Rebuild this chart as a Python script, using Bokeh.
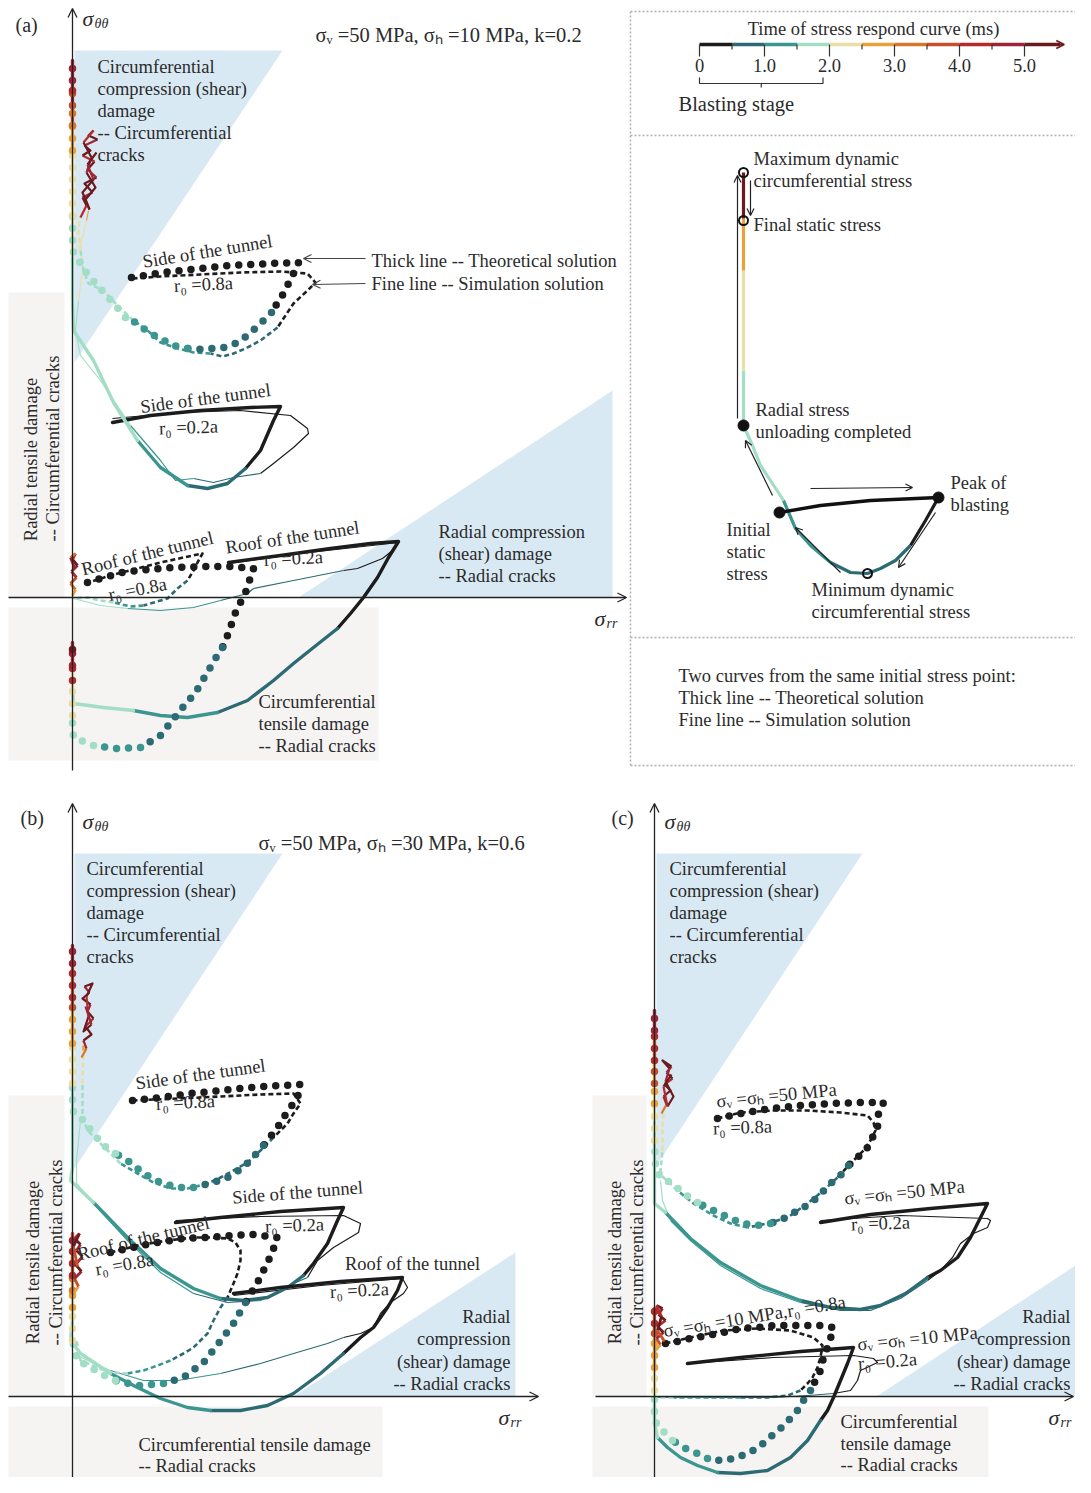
import math
from bisect import bisect_right
from bokeh.plotting import figure
from bokeh.models import Range1d, Arrow, OpenHead, Label
from bokeh.embed import file_html
from bokeh.resources import INLINE

FONT = "Liberation Serif"
TXT = "#2b2b2b"
FS = "18.5px"

# ---------------- colour scale: time of stress respond curve (ms) ----------------
time_bin_edges = [0.5, 1.0, 1.5, 2.0, 2.5, 3.0, 3.5, 4.0, 4.5, 5.0]
time_colors = ["#1c1c1c", "#2c6b74", "#3b968f", "#a2ddc6", "#e9dfa6", "#e8a23c",
               "#d6782b", "#c4502c", "#b32b2b", "#9e2537", "#6b1a1e"]
colorbar_ticks = [0.0, 1.0, 2.0, 3.0, 4.0, 5.0]
colorbar_tick_labels = ["0", "1.0", "2.0", "3.0", "4.0", "5.0"]
colorbar_end = 5.55
blasting_stage = [0.0, 1.9]

# ---------------- panel (a): sv=50, sh=10 (local stress-path units) ----------------
a_side08_th_x = [59, 78, 98, 118, 138, 158, 178, 198, 226, 221, 216, 211, 199, 188, 175, 163, 151, 130, 115, 101, 88, 76, 65, 53, 43, 25, 16, 8, 0, 0, 0, 0, 0, 0, 0, 0]
a_side08_th_y = [320, 323, 326, 328, 330, 332, 333, 334, 335, 324, 314, 304, 285, 274, 262, 254, 250, 248, 249, 252, 259, 265, 274, 280, 292, 312, 322, 334, 347, 382, 447, 472, 492, 507, 517, 537]
a_side08_th_t = [0, .06, .12, .18, .24, .3, .36, .4, .45, .47, .48, .49, .5, .55, .65, .75, .85, .95, 1.05, 1.15, 1.25, 1.35, 1.45, 1.55, 1.65, 1.75, 1.85, 1.95, 1.98, 2.0, 2.6, 3.2, 3.8, 4.3, 4.8, 5.2]

a_side08_sim_x = [60, 88, 128, 168, 208, 235, 243, 235, 221, 205, 188, 173, 161, 150, 138, 121, 105, 88, 75, 61, 45, 31, 16, 11, 8, 6, 8]
a_side08_sim_y = [319, 321, 323, 325, 326, 324, 315, 307, 294, 270, 257, 249, 244, 241, 244, 245, 249, 255, 267, 277, 292, 307, 314, 327, 347, 367, 382]
a_side08_sim_t = [0, .1, .2, .3, .35, .4, .42, .45, .47, .5, .6, .7, .8, .9, 1.0, 1.1, 1.2, 1.3, 1.45, 1.55, 1.65, 1.75, 1.85, 1.95, 2.1, 2.3, 2.6]

a_side02_th_x = [40, 78, 128, 178, 208, 201, 188, 173, 155, 135, 115, 88, 65, 41, 21, 1, 0, 0, 0, 0, 0, 0]
a_side02_th_y = [175, 182, 187, 190, 191, 177, 147, 129, 114, 109, 112, 130, 157, 195, 237, 267, 297, 342, 447, 472, 492, 537]
a_side02_th_t = [0, .1, .2, .3, .4, .42, .46, .5, .7, .9, 1.05, 1.3, 1.5, 1.6, 1.75, 1.9, 1.95, 2.0, 2.6, 3.6, 4.6, 5.2]

a_side02_sim_x = [40, 108, 168, 218, 235, 236, 221, 201, 188, 161, 141, 121, 103, 88, 58, 28, 8, 3, 6, 10, 8, 14, 16]
a_side02_sim_y = [179, 185, 187, 182, 169, 164, 150, 134, 124, 120, 115, 119, 117, 137, 172, 217, 242, 267, 297, 327, 352, 377, 387]
a_side02_sim_t = [0, .15, .25, .35, .4, .42, .45, .48, .5, .7, .9, 1.0, 1.1, 1.3, 1.5, 1.6, 1.7, 1.85, 2.0, 2.2, 2.4, 2.6, 2.8]

a_roof08_th_x = [15, 28, 50, 75, 100, 135, 158, 181, 177, 173, 163, 155, 150, 143, 136, 123, 106, 88, 68, 45, 21, 1, 0, 0, 0, 0, 0, 0]
a_roof08_th_y = [15, 19, 25, 28, 30, 31, 31, 29, 17, 5, -15, -38, -50, -61, -73, -95, -115, -138, -150, -151, -148, -140, -130, -118, -83, -68, -52, -43]
a_roof08_th_t = [0, .05, .1, .15, .2, .25, .3, .35, .37, .39, .42, .46, .5, .55, .6, .7, .8, .95, 1.1, 1.3, 1.55, 1.7, 1.9, 2.0, 4.0, 4.6, 5.2, 5.2]

a_roof08_sim_x = [13, 38, 65, 88, 111, 130, 125, 121, 115, 105, 95, 88, 71, 58, 41, 28, 15, 1]
a_roof08_sim_y = [14, 22, 29, 35, 40, 44, 35, 27, 17, 9, -1, -3, -8, -9, -5, -3, 0, -1]
a_roof08_sim_t = [0, .05, .1, .15, .2, .25, .3, .35, .5, .6, .7, .8, 1.0, 1.2, 1.5, 1.6, 1.8, 1.95]

a_roof02_th_x = [156, 208, 258, 298, 326, 316, 305, 291, 278, 265, 241, 221, 201, 175, 145, 115, 88, 61, 31, 1, 0, 0, 0, 0]
a_roof02_th_y = [35, 42, 49, 54, 56, 40, 20, 0, -16, -31, -50, -66, -83, -103, -115, -120, -118, -113, -110, -106, -93, -70, -55, -45]
a_roof02_th_t = [0, .1, .2, .3, .4, .42, .44, .46, .48, .5, .6, .7, .8, .9, 1.0, 1.1, 1.25, 1.5, 1.7, 1.9, 2.0, 4.0, 4.7, 5.2]

a_roof02_sim_x = [156, 228, 326, 320, 310, 300, 285, 271, 221, 181, 175, 148, 121, 88, 55, 28, 1]
a_roof02_sim_y = [34, 44, 55, 47, 39, 35, 29, 27, 17, 9, 4, -3, -10, -13, -11, -8, -1]
a_roof02_sim_t = [0, .1, .3, .35, .38, .4, .45, .5, .7, .9, .95, 1.05, 1.2, 1.35, 1.5, 1.6, 1.9]

a_scrib_side_x = [8, 14, 10, 20, 12, 24, 15, 22, 10, 18, 12, 25, 16, 21, 11, 19, 14, 23, 13, 17, 10, 21, 15, 24]
a_scrib_side_y = [380, 392, 400, 405, 414, 420, 428, 436, 442, 447, 452, 458, 462, 467, 455, 440, 425, 410, 398, 388, 405, 418, 433, 445]
a_scrib_side_t = [4.2, 5.2, 4.7, 5.2, 5.2, 4.7, 5.2, 4.2, 5.2, 5.2, 4.7, 5.2, 5.2, 4.2, 5.2, 4.7, 5.2, 5.2, 4.7, 5.2, 5.2, 4.7, 5.2, 5.2]
a_scrib_roof_x = [0, 3, -2, 4, -1, 5, 0, 3, -2, 2]
a_scrib_roof_y = [2, 8, 14, 20, 26, 32, 38, 44, 40, 30]
a_scrib_roof_t = [2.7, 3.2, 3.7, 4.2, 4.7, 5.2, 4.2, 3.2, 4.7, 5.2]

# ---------------- panel (b): sv=50, sh=30 ----------------
b_side08_th_x = [60, 88, 118, 148, 178, 208, 228, 225, 218, 211, 205, 191, 178, 166, 155, 141, 121, 105, 88, 71, 58, 43, 31, 21, 11, 0, 0, 0, 0, 0, 0, 0]
b_side08_th_y = [296, 299, 303, 306, 309, 311, 312, 299, 289, 279, 269, 251, 236, 226, 219, 214, 209, 209, 214, 223, 234, 243, 251, 263, 276, 286, 313, 353, 389, 399, 433, 451]
b_side08_th_t = [0, .05, .1, .15, .2, .25, .3, .33, .36, .4, .45, .55, .65, .75, .85, .95, 1.05, 1.15, 1.25, 1.35, 1.45, 1.55, 1.65, 1.75, 1.85, 1.95, 2.0, 2.6, 3.6, 4.2, 4.8, 5.2]

b_side08_sim_x = [60, 128, 188, 221, 228, 221, 215, 201, 188, 175, 161, 148, 135, 115, 98, 81, 65, 48, 35, 25, 15, 10, 10, 11, 11]
b_side08_sim_y = [296, 299, 302, 303, 293, 283, 273, 259, 246, 234, 226, 219, 213, 208, 208, 214, 223, 233, 246, 256, 266, 279, 313, 346, 356]
b_side08_sim_t = [0, .1, .2, .3, .33, .36, .4, .5, .6, .7, .8, .9, 1.0, 1.1, 1.2, 1.3, 1.4, 1.5, 1.6, 1.7, 1.8, 1.9, 2.0, 2.6, 2.8]

b_side02_th_x = [103, 148, 208, 271, 265, 255, 241, 231, 215, 195, 171, 148, 121, 88, 55, 21, -2, 0, 0, 0, 0, 0, 0, 0]
b_side02_th_y = [174, 179, 185, 189, 176, 153, 133, 121, 109, 99, 96, 98, 108, 128, 159, 194, 216, 229, 276, 313, 353, 389, 433, 451]
b_side02_th_t = [0, .1, .2, .3, .33, .38, .44, .5, .6, .75, .9, 1.0, 1.15, 1.3, 1.45, 1.6, 1.75, 1.8, 1.95, 2.0, 2.6, 3.6, 4.6, 5.2]

b_side02_sim_x = [103, 188, 271, 288, 286, 261, 245, 235, 221, 188, 155, 121, 88, 55, 23, 4, 4, 8]
b_side02_sim_y = [176, 180, 181, 173, 164, 149, 136, 119, 113, 96, 94, 103, 124, 156, 191, 213, 236, 276]
b_side02_sim_t = [0, .15, .3, .33, .36, .4, .45, .5, .6, .8, .95, 1.1, 1.3, 1.45, 1.6, 1.75, 1.9, 2.0]

b_roof08_th_x = [38, 60, 85, 111, 135, 158, 181, 205, 201, 196, 185, 173, 161, 146, 131, 111, 91, 66, 43, 28, 15, 5, 0, 0, 0, 0, 0, 0]
b_roof08_th_y = [144, 149, 154, 158, 159, 161, 162, 159, 148, 136, 114, 94, 73, 53, 34, 19, 13, 11, 16, 23, 31, 36, 56, 89, 106, 121, 156, 163]
b_roof08_th_t = [0, .03, .06, .1, .13, .16, .2, .25, .28, .32, .38, .5, .6, .7, .8, .9, 1.0, 1.2, 1.5, 1.6, 1.7, 1.85, 2.0, 2.6, 3.2, 4.0, 4.7, 5.2]

b_roof08_sim_x = [38, 65, 95, 121, 138, 155, 163, 168, 168, 165, 161, 155, 148, 141, 135, 121, 111, 98, 85, 71, 55, 38, 25, 8, 4]
b_roof08_sim_y = [144, 151, 156, 159, 159, 158, 154, 146, 136, 123, 113, 99, 89, 76, 63, 49, 43, 36, 31, 26, 23, 24, 29, 36, 56]
b_roof08_sim_t = [0, .05, .1, .15, .2, .25, .28, .3, .33, .38, .42, .5, .55, .6, .7, .8, .9, 1.0, 1.1, 1.3, 1.5, 1.6, 1.7, 1.85, 2.0]

b_roof02_th_x = [161, 208, 268, 330, 325, 315, 301, 288, 271, 248, 221, 195, 168, 138, 115, 88, 65, 38, 8, -2, 0, 0, 0, 0]
b_roof02_th_y = [103, 109, 115, 119, 106, 89, 69, 59, 43, 23, 3, -9, -14, -14, -11, -2, 9, 23, 43, 56, 76, 106, 121, 163]
b_roof02_th_t = [0, .1, .2, .3, .33, .37, .42, .46, .5, .6, .7, .8, .9, 1.0, 1.1, 1.25, 1.4, 1.55, 1.7, 1.85, 2.0, 2.6, 3.6, 5.2]

b_roof02_sim_x = [161, 248, 330, 335, 331, 318, 308, 301, 288, 271, 255, 221, 188, 148, 105, 71, 38, 15, 1]
b_roof02_sim_y = [101, 111, 118, 109, 103, 94, 83, 69, 63, 59, 53, 43, 33, 23, 16, 16, 26, 36, 43]
b_roof02_sim_t = [0, .15, .3, .33, .35, .38, .41, .44, .47, .5, .6, .75, .9, 1.05, 1.2, 1.35, 1.55, 1.7, 1.85]

b_scrib_side_x = [9, 14, 11, 19, 13, 21, 15, 18, 10, 17, 12, 20, 14, 16, 11, 19, 13]
b_scrib_side_y = [339, 348, 356, 362, 370, 378, 385, 392, 398, 404, 410, 413, 400, 380, 365, 372, 390]
b_scrib_side_t = [3.2, 4.7, 5.2, 5.2, 4.2, 5.2, 4.7, 5.2, 5.2, 4.7, 5.2, 5.2, 4.2, 5.2, 5.2, 4.7, 5.2]
b_scrib_roof_x = [1, 6, 2, 9, 3, 10, 4, 8, 2, 7, 1, 5]
b_scrib_roof_y = [103, 110, 118, 125, 132, 140, 146, 152, 158, 163, 150, 130]
b_scrib_roof_t = [2.7, 3.7, 4.7, 5.2, 4.2, 5.2, 4.7, 5.2, 4.2, 5.2, 3.7, 5.2]

# ---------------- panel (c): sv=sh=50 and sv=sh=10 ----------------
c_50_08_th_x = [63, 86, 116, 146, 176, 206, 229, 224, 223, 218, 213, 203, 194, 186, 176, 163, 149, 129, 116, 103, 89, 76, 59, 43, 29, 18, 6, 1, 0, 0, 0, 0, 0, 0]
c_50_08_th_y = [278, 283, 288, 291, 293, 294, 294, 283, 269, 259, 249, 239, 231, 221, 213, 199, 189, 178, 173, 171, 173, 178, 186, 194, 203, 213, 219, 228, 256, 293, 313, 336, 366, 386]
c_50_08_th_t = [0, .03, .08, .13, .18, .23, .28, .3, .33, .36, .4, .45, .5, .55, .6, .7, .8, .9, 1.0, 1.1, 1.2, 1.3, 1.4, 1.5, 1.6, 1.7, 1.8, 1.9, 2.0, 2.6, 3.6, 4.2, 4.8, 5.2]

c_50_08_sim_x = [63, 86, 119, 153, 186, 213, 219, 221, 216, 209, 196, 183, 169, 153, 133, 113, 93, 76, 59, 39, 23, 9, 6, 8, 8, 9]
c_50_08_sim_y = [278, 284, 286, 286, 284, 281, 274, 266, 256, 246, 233, 219, 206, 193, 179, 173, 169, 173, 181, 193, 206, 219, 226, 246, 269, 283]
c_50_08_sim_t = [0, .05, .1, .15, .2, .25, .28, .31, .35, .4, .47, .55, .65, .75, .85, .95, 1.05, 1.15, 1.3, 1.45, 1.6, 1.75, 1.85, 2.0, 2.4, 2.8]

c_50_02_th_x = [166, 216, 276, 333, 326, 316, 303, 286, 273, 251, 226, 206, 176, 146, 106, 66, 36, 11, 0, 0, 0, 0, 0, 0, 0]
c_50_02_th_y = [174, 182, 188, 193, 179, 159, 139, 126, 119, 103, 91, 87, 89, 96, 111, 134, 158, 184, 193, 246, 276, 313, 336, 366, 386]
c_50_02_th_t = [0, .1, .2, .3, .33, .37, .42, .46, .5, .6, .7, .8, .9, 1.0, 1.15, 1.3, 1.45, 1.6, 1.75, 1.95, 2.0, 2.6, 3.6, 4.6, 5.2]

c_50_02_sim_x = [166, 246, 333, 336, 333, 319, 306, 298, 286, 273, 246, 216, 186, 146, 106, 66, 36, 16, 8, 6]
c_50_02_sim_y = [176, 181, 178, 176, 169, 163, 153, 139, 126, 116, 98, 86, 86, 94, 108, 131, 156, 176, 196, 216]
c_50_02_sim_t = [0, .15, .3, .32, .34, .37, .4, .44, .47, .5, .62, .75, .88, 1.0, 1.15, 1.3, 1.45, 1.6, 1.75, 1.9]

c_10_08_th_x = [11, 19, 36, 53, 69, 86, 103, 119, 136, 153, 166, 179, 176, 173, 169, 166, 161, 156, 149, 143, 134, 124, 114, 104, 93, 79, 66, 53, 43, 29, 18, 6, 0, 0, 0, 0, 0, 0, 0, 0]
c_10_08_th_y = [53, 54, 58, 61, 64, 68, 69, 71, 71, 71, 71, 69, 58, 49, 39, 26, 16, 6, -4, -14, -24, -34, -42, -51, -57, -62, -64, -62, -57, -51, -44, -32, -24, -11, 6, 29, 49, 63, 73, 88]
c_10_08_th_t = [0, .02, .05, .08, .11, .14, .17, .2, .23, .26, .29, .32, .34, .36, .39, .42, .45, .5, .55, .6, .65, .7, .75, .8, .85, .9, .95, 1.0, 1.2, 1.4, 1.55, 1.7, 1.85, 1.95, 2.0, 2.5, 2.7, 3.7, 4.2, 5.2]

c_10_08_sim_x = [11, 36, 69, 103, 136, 159, 168, 166, 163, 158, 153, 146, 133, 113, 86, 53, 19, 0]
c_10_08_sim_y = [53, 59, 66, 68, 66, 59, 51, 39, 29, 19, 13, 6, 1, -1, -1, -1, -1, -1]
c_10_08_sim_t = [0, .05, .1, .15, .2, .25, .3, .34, .38, .42, .46, .5, .7, .9, 1.1, 1.3, 1.6, 1.9]

c_10_02_th_x = [33, 86, 146, 199, 193, 186, 179, 173, 166, 153, 136, 113, 86, 63, 43, 26, 13, 3, 0, 0, 0, 0, 0]
c_10_02_th_y = [33, 39, 45, 49, 33, 16, -1, -14, -24, -44, -61, -74, -77, -76, -69, -61, -51, -41, -27, -1, 29, 63, 88]
c_10_02_th_t = [0, .1, .2, .3, .34, .38, .42, .46, .5, .6, .7, .8, .9, 1.0, 1.15, 1.3, 1.45, 1.6, 1.8, 2.0, 2.6, 3.6, 5.2]

c_10_02_sim_x = [33, 119, 199, 219, 223, 206, 203, 196, 179, 153, 119, 53, 3]
c_10_02_sim_y = [33, 39, 41, 38, 34, 26, 16, 6, 3, 1, -1, -1, -1]
c_10_02_sim_t = [0, .15, .3, .33, .35, .38, .42, .46, .5, .7, .9, 1.3, 1.8]

c_scrib_50_x = [7, 12, 9, 16, 10, 18, 12, 17, 8, 15, 11, 19, 13, 9, 17]
c_scrib_50_y = [283, 292, 300, 306, 312, 318, 324, 330, 336, 328, 315, 300, 290, 310, 322]
c_scrib_50_t = [3.2, 4.7, 5.2, 5.2, 4.2, 5.2, 4.7, 5.2, 5.2, 4.7, 5.2, 5.2, 4.2, 5.2, 5.2]
c_scrib_10_x = [1, 6, 2, 9, 3, 11, 4, 8, 2, 7, 3, 10]
c_scrib_10_y = [46, 52, 58, 64, 70, 76, 82, 88, 91, 80, 66, 55]
c_scrib_10_t = [2.7, 3.7, 4.7, 5.2, 4.2, 5.2, 4.7, 5.2, 4.2, 5.2, 3.7, 5.2]

# ---------------- schematic of one stress path (legend) ----------------
sch_path_x = [195, 182, 167, 152, 137, 124, 107, 87, 67, 52, 40, 27, 17, 9, 0, 0, 0, 0, 0]
sch_path_y = [-72, -95, -120, -135, -143, -148, -147, -137, -120, -103, -75, -55, -40, -20, 0, 55, 155, 207, 253]
sch_path_t = [0.4, 0.45, 0.5, 0.6, 0.7, 0.8, 0.9, 1.0, 1.1, 1.3, 1.5, 1.6, 1.7, 1.9, 1.95, 2.0, 2.6, 5.2, 5.2]
sch_blast_x = [36, 77, 127, 195]
sch_blast_y = [-87, -80, -75, -72]
sch_initial = (36, -87)
sch_peak = (195, -72)
sch_unload = (0, 0)
sch_min = (124, -148)
sch_max = (0, 253)
sch_final = (0, 205)

# ---------------- layout (page positions) ----------------
ORIG_A = (72, 597)
ORIG_B = (72, 1396)
ORIG_C = (654, 1396)
ORIG_S = (743, 425)
CB_X0, CB_PX_PER_MS, CB_Y = 699, 65, 44

p = figure(width=1075, height=1477, x_range=Range1d(0, 1075), y_range=Range1d(1477, 0),
           x_axis_type=None, y_axis_type=None, toolbar_location=None,
           output_backend="svg", min_border=0)
p.grid.visible = False
p.outline_line_color = None
p.background_fill_color = "white"

BLUE = "#d9e9f4"
GRAY = "#f6f3f3"

def cidx(t):
    return bisect_right(time_bin_edges, t)

def curve(orig, xs, ys, ts, **style):
    ox, oy = orig
    px = [ox + v for v in xs]
    py = [oy - v for v in ys]
    ci = [cidx(t) for t in ts]
    rx, ry, rc = [], [], []
    start = 0
    n = len(px)
    for i in range(1, n):
        if ci[i] != ci[start] or i == n - 1:
            rx.append(px[start:i + 1]); ry.append(py[start:i + 1]); rc.append(time_colors[ci[start]])
            start = i
    p.multi_line(xs=rx, ys=ry, line_color=rc, **style)

DOT = dict(line_width=7.5, line_dash="0 12", line_cap="round", line_join="round")
DASH = dict(line_width=2.6, line_dash="5 3", line_join="round")
THICK = dict(line_width=3.4, line_cap="round", line_join="round")
THIN = dict(line_width=1.2, line_join="round")
SCRIB = dict(line_width=2.2, line_join="round")

def lbl(x, y, text, size=FS, align="left", angle=0.0, style="normal", baseline="middle", color=TXT):
    p.add_layout(Label(x=x, y=y, text=text, text_font=FONT, text_font_size=size, text_align=align,
                       text_baseline=baseline, angle=angle, text_font_style=style, text_color=color))

def arrow(x0, y0, x1, y1, color="#222222", width=1.2, size=9):
    p.add_layout(Arrow(end=OpenHead(size=size, line_color=color, line_width=width),
                       x_start=x0, y_start=y0, x_end=x1, y_end=y1, line_color=color, line_width=width))

# ---------------- background regions ----------------
def regions(orig, top_y, top_w, tri_top, tri_right, gray_left, gray_top, gray_bottom_right, gray_bottom_y):
    ox, oy = orig
    p.patch([ox + 2, ox + top_w, ox + 2], [top_y, top_y, tri_top], fill_color=BLUE, line_color=None)
    p.patch(tri_right[0], tri_right[1], fill_color=BLUE, line_color=None)
    p.quad(left=gray_left, right=ox - 8, top=gray_top, bottom=oy, fill_color=GRAY, line_color=None)
    p.quad(left=gray_left, right=gray_bottom_right, top=oy + 10, bottom=gray_bottom_y, fill_color=GRAY, line_color=None)

regions(ORIG_A, 50, 210, 362, ([298, 612, 612], [597, 390, 597]), 8, 292, 378, 760)
regions(ORIG_B, 853, 210, 1168, ([293, 515, 515], [1396, 1252, 1396]), 8, 1095, 382, 1483)
regions(ORIG_C, 853, 208, 1165, ([876, 1075, 1075], [1396, 1265, 1396]), 592, 1095, 988, 1483)

# ---------------- axes ----------------
for (ox, oy), ytop, xl, xr in [(ORIG_A, 8, 8, 626), (ORIG_B, 803, 8, 538), (ORIG_C, 803, 595, 1073)]:
    arrow(ox, 1490 if oy > 700 else 770, ox, ytop, width=1.3)
    arrow(xl, oy, xr, oy, width=1.3)

# ---------------- curves ----------------
def panel_curves(orig, items):
    for xs, ys, ts, st in items:
        curve(orig, xs, ys, ts, **st)

panel_curves(ORIG_A, [
    (a_side02_sim_x, a_side02_sim_y, a_side02_sim_t, THIN),
    (a_roof02_sim_x, a_roof02_sim_y, a_roof02_sim_t, THIN),
    (a_side02_th_x, a_side02_th_y, a_side02_th_t, THICK),
    (a_roof02_th_x, a_roof02_th_y, a_roof02_th_t, THICK),
    (a_side08_sim_x, a_side08_sim_y, a_side08_sim_t, DASH),
    (a_roof08_sim_x, a_roof08_sim_y, a_roof08_sim_t, DASH),
    (a_side08_th_x, a_side08_th_y, a_side08_th_t, DOT),
    (a_roof08_th_x, a_roof08_th_y, a_roof08_th_t, DOT),
    (a_scrib_side_x, a_scrib_side_y, a_scrib_side_t, SCRIB),
    (a_scrib_roof_x, a_scrib_roof_y, a_scrib_roof_t, dict(line_width=2.8)),
])
panel_curves(ORIG_B, [
    (b_side02_sim_x, b_side02_sim_y, b_side02_sim_t, THIN),
    (b_roof02_sim_x, b_roof02_sim_y, b_roof02_sim_t, THIN),
    (b_side02_th_x, b_side02_th_y, b_side02_th_t, THICK),
    (b_roof02_th_x, b_roof02_th_y, b_roof02_th_t, THICK),
    (b_side08_sim_x, b_side08_sim_y, b_side08_sim_t, DASH),
    (b_roof08_sim_x, b_roof08_sim_y, b_roof08_sim_t, DASH),
    (b_side08_th_x, b_side08_th_y, b_side08_th_t, DOT),
    (b_roof08_th_x, b_roof08_th_y, b_roof08_th_t, DOT),
    (b_scrib_side_x, b_scrib_side_y, b_scrib_side_t, SCRIB),
    (b_scrib_roof_x, b_scrib_roof_y, b_scrib_roof_t, dict(line_width=2.8)),
])
panel_curves(ORIG_C, [
    (c_50_02_sim_x, c_50_02_sim_y, c_50_02_sim_t, THIN),
    (c_10_02_sim_x, c_10_02_sim_y, c_10_02_sim_t, THIN),
    (c_50_02_th_x, c_50_02_th_y, c_50_02_th_t, THICK),
    (c_10_02_th_x, c_10_02_th_y, c_10_02_th_t, THICK),
    (c_50_08_sim_x, c_50_08_sim_y, c_50_08_sim_t, DASH),
    (c_10_08_sim_x, c_10_08_sim_y, c_10_08_sim_t, DASH),
    (c_50_08_th_x, c_50_08_th_y, c_50_08_th_t, DOT),
    (c_10_08_th_x, c_10_08_th_y, c_10_08_th_t, DOT),
    (c_scrib_50_x, c_scrib_50_y, c_scrib_50_t, SCRIB),
    (c_scrib_10_x, c_scrib_10_y, c_scrib_10_t, dict(line_width=2.8)),
])

# ---------------- legend boxes ----------------
DOTTED = dict(line_color="#b0b0b0", line_width=1.5, line_dash="2 2")
p.multi_line(xs=[[630, 1080], [630, 1080], [630, 1080], [630, 1080], [630, 630]],
             ys=[[11, 11], [135, 135], [637, 637], [765, 765], [11, 765]], **DOTTED)

# colour bar
def cbx(t):
    return CB_X0 + CB_PX_PER_MS * t
seg_x0, seg_x1, seg_c = [], [], []
for i, c in enumerate(time_colors):
    t0 = 0.5 * i
    t1 = min(0.5 * (i + 1), colorbar_end) if i < len(time_colors) - 1 else colorbar_end
    seg_x0.append(cbx(t0)); seg_x1.append(cbx(t1)); seg_c.append(c)
p.segment(x0=seg_x0, y0=[CB_Y] * len(seg_c), x1=seg_x1, y1=[CB_Y] * len(seg_c), line_color=seg_c, line_width=3.5)
p.add_layout(Arrow(end=OpenHead(size=8, line_color=time_colors[-1], line_width=1.5),
                   x_start=cbx(colorbar_end) - 4, y_start=CB_Y, x_end=cbx(colorbar_end) + 4, y_end=CB_Y,
                   line_color=time_colors[-1], line_width=1.5))
minor = [0.5 * k for k in range(11)]
p.segment(x0=[cbx(t) for t in minor], y0=[CB_Y] * 11, x1=[cbx(t) for t in minor],
          y1=[CB_Y + (12 if abs(t - round(t)) < 1e-9 else 5) for t in minor], line_color="#333333", line_width=1.2)
for t, s in zip(colorbar_ticks, colorbar_tick_labels):
    lbl(cbx(t), CB_Y + 21, s, size="18.5px", align="center")
lbl(873, 28, "Time of stress respond curve (ms)", size="18.5px", align="center")
bx0, bx1 = cbx(blasting_stage[0]), cbx(blasting_stage[1])
p.multi_line(xs=[[bx0, bx0, bx1, bx1], [(bx0 + bx1) / 2, (bx0 + bx1) / 2]],
             ys=[[77, 83, 83, 77], [83, 87]], line_color="#333333", line_width=1.2)
lbl(678, 103, "Blasting stage", size="20.5px")

# schematic
sox, soy = ORIG_S
curve(ORIG_S, sch_path_x, sch_path_y, sch_path_t, line_width=3.2, line_join="round")
p.line([sox + v for v in sch_blast_x], [soy - v for v in sch_blast_y], line_color="#111111", line_width=3.4)
p.scatter([sox + v[0] for v in (sch_initial, sch_peak, sch_unload)],
          [soy - v[1] for v in (sch_initial, sch_peak, sch_unload)], size=11, color="#111111")
p.scatter([sox + v[0] for v in (sch_min, sch_max, sch_final)],
          [soy - v[1] for v in (sch_min, sch_max, sch_final)], size=9, fill_color="white",
          fill_alpha=0.0, line_color="#111111", line_width=2)
arrow(sox - 6, soy - 7, sox - 6, soy - 250, width=1.2, size=7)
arrow(sox + 7, soy - 245, sox + 7, soy - 210, width=1.2, size=7)
arrow(sox + 29, soy + 70, sox + 2, soy + 15, width=1.2, size=7)
arrow(sox + 67, soy + 63, sox + 169, soy + 62, width=1.2, size=7)
arrow(sox + 192, soy + 87, sox + 155, soy + 142, width=1.2, size=7)
arrow(sox + 97, soy + 147, sox + 52, soy + 102, width=1.2, size=7)
lbl(753, 158, "Maximum dynamic")
lbl(753, 180, "circumferential stress")
lbl(753, 224, "Final static stress")
lbl(755, 409, "Radial stress")
lbl(755, 431, "unloading completed")
lbl(950, 482, "Peak of")
lbl(950, 504, "blasting")
lbl(726, 529, "Initial")
lbl(726, 551, "static")
lbl(726, 573, "stress")
lbl(811, 589, "Minimum dynamic")
lbl(811, 611, "circumferential stress")
lbl(678, 675, "Two curves from the same initial stress point:")
lbl(678, 697, "Thick line -- Theoretical solution")
lbl(678, 719, "Fine line -- Simulation solution")

# ---------------- panel texts ----------------
def axis_labels(ox, oy, top, xs_sigma):
    lbl(ox + 10, top + 8, "σ", size="22px", style="italic")
    lbl(ox + 22, top + 13, "θθ", size="14px", style="italic")
    lbl(xs_sigma, oy + 21, "σ", size="22px", style="italic")
    lbl(xs_sigma + 12, oy + 26, "rr", size="14px", style="italic")

axis_labels(72, 597, 10, 594)
axis_labels(72, 1396, 813, 498)
axis_labels(654, 1396, 813, 1048)
lbl(15, 24, "(a)", size="20px")
lbl(20, 817, "(b)", size="20px")
lbl(611, 817, "(c)", size="20px")

lbl(315, 34, "σᵥ =50 MPa, σₕ =10 MPa, k=0.2", size="20.5px")
lbl(258, 842, "σᵥ =50 MPa, σₕ =30 MPa, k=0.6", size="20.5px")

def compression_block(x, y0):
    for i, s in enumerate(["Circumferential", "compression (shear)", "damage", "-- Circumferential", " cracks"]):
        lbl(x, y0 + 22 * i, s)

compression_block(97, 66)
compression_block(86, 868)
compression_block(669, 868)

def vertical_block(x1, x2, yc1, yc2):
    lbl(x1, yc1, "Radial tensile damage", angle=math.pi / 2, align="center")
    lbl(x2, yc2, "-- Circumferential cracks", angle=math.pi / 2, align="center")

vertical_block(30, 52, 459, 448)
vertical_block(32, 55, 1262, 1252)
vertical_block(614, 636, 1262, 1252)

# panel (a) annotations
lbl(207, 251, "Side of the tunnel", align="center", angle=0.16)
lbl(203, 284, "r₀ =0.8a", align="center", angle=0.05)
lbl(205, 398, "Side of the tunnel", align="center", angle=0.13)
lbl(188, 427, "r₀ =0.2a", align="center", angle=0.03)
lbl(147, 553, "Roof of the tunnel", align="center", angle=0.24)
lbl(137, 589, "r₀ =0.8a", align="center", angle=0.19)
lbl(292, 537, "Roof of the tunnel", align="center", angle=0.15)
lbl(293, 558, "r₀ =0.2a", align="center", angle=0.05)
lbl(371, 260, "Thick line -- Theoretical solution")
lbl(371, 283, "Fine line -- Simulation solution")
arrow(365, 258, 303, 258, color="#444444", width=1.1, size=8)
arrow(365, 283, 312, 284, color="#444444", width=1.1, size=8)
lbl(438, 531, "Radial compression")
lbl(438, 553, "(shear) damage")
lbl(438, 575, "-- Radial cracks")
lbl(258, 701, "Circumferential")
lbl(258, 723, "tensile damage")
lbl(258, 745, "-- Radial cracks")

# panel (b) annotations
lbl(200, 1074, "Side of the tunnel", align="center", angle=0.14)
lbl(185, 1102, "r₀ =0.8a", align="center", angle=0.05)
lbl(297, 1192, "Side of the tunnel", align="center", angle=0.08)
lbl(294, 1225, "r₀ =0.2a", align="center", angle=0.03)
lbl(143, 1238, "Roof of the tunnel", align="center", angle=0.24)
lbl(124, 1264, "r₀ =0.8a", align="center", angle=0.17)
lbl(412, 1263, "Roof of the tunnel", align="center")
lbl(359, 1290, "r₀ =0.2a", align="center", angle=0.05)
for i, s in enumerate(["Radial", "compression", "(shear) damage", "-- Radial cracks"]):
    lbl(510, 1316 + 22.5 * i, s, align="right")
lbl(138, 1444, "Circumferential tensile damage")
lbl(138, 1465, "-- Radial cracks")

# panel (c) annotations
lbl(776, 1095, "σᵥ =σₕ =50 MPa", align="center", angle=0.1)
lbl(742, 1127, "r₀ =0.8a", align="center", angle=0.03)
lbl(904, 1192, "σᵥ =σₕ =50 MPa", align="center", angle=0.1)
lbl(880, 1223, "r₀ =0.2a", align="center", angle=0.03)
lbl(754, 1316, "σᵥ =σₕ =10 MPa,r₀ =0.8a", align="center", angle=0.16)
lbl(917, 1338, "σᵥ =σₕ =10 MPa", align="center", angle=0.1)
lbl(887, 1361, "r₀ =0.2a", align="center", angle=0.08)
for i, s in enumerate(["Radial", "compression", "(shear) damage", "-- Radial cracks"]):
    lbl(1070, 1316 + 22.5 * i, s, align="right")
lbl(840, 1421, "Circumferential")
lbl(840, 1443, "tensile damage")
lbl(840, 1464, "-- Radial cracks")

open("out.html", "w").write(file_html(p, INLINE))
